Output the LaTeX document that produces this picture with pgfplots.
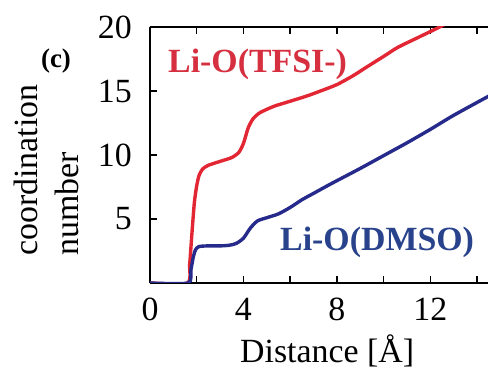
\documentclass[border=0pt]{standalone}
\usepackage{fontspec}
\setmainfont{Liberation Serif}
\usepackage{pgfplots}
\pgfplotsset{compat=1.18}
\definecolor{cred}{RGB}{226,38,52}
\definecolor{cblue}{RGB}{38,42,138}
\definecolor{tred}{RGB}{214,48,64}
\definecolor{tblue}{RGB}{40,66,140}
\begin{document}
\begin{tikzpicture}
\useasboundingbox (-150bp,-87bp) rectangle (338bp,283bp);
\begin{axis}[at={(0bp,0bp)}, anchor=south west, scale only axis,
  width=338bp, height=256bp,
  xmin=0, xmax=14.47, ymin=0, ymax=20,
  axis x line*=box, axis y line*=left,
  axis line style={-, line width=2bp, black},
  tick align=inside, major tick length=7bp,
  tick style={line width=1.5bp, black},
  xtick={0,2,...,14}, xticklabels={0,,4,,8,,12,},
  ytick={5,10,15,20},
  /pgf/number format/assume math mode=true,
  ticklabel style={font=\fontsize{34}{41}\selectfont},
  yticklabel style={anchor=east, inner sep=0pt, xshift=-18bp},
  xticklabel style={anchor=north, inner sep=0pt, yshift=-15bp},
]
\addplot[cred, line width=3.4bp, smooth, tension=0.4] coordinates {
(0,0) (1.6,0) (1.7,1.5) (1.8,4) (1.9,6.3) (2.0,7.6) (2.1,8.4) (2.25,8.9) (2.5,9.2)
(3.0,9.5) (3.5,9.8) (3.8,10.2) (4.0,10.9) (4.2,12.1) (4.4,12.8) (4.7,13.3) (5.3,13.8)
(6.0,14.2) (6.7,14.6) (7.3,15.0) (8.0,15.5) (8.7,16.2) (9.3,16.9) (10.0,17.7)
(10.6,18.4) (11.5,19.2) (12.4,20) (12.8,20.4)
};
\addplot[cblue, line width=3.4bp, smooth, tension=0.4] coordinates {
(0,0) (1.63,0) (1.75,1.0) (1.85,2.0) (1.95,2.6) (2.1,2.85) (2.5,2.9) (3.0,2.9)
(3.4,2.95) (3.7,3.1) (4.0,3.5) (4.3,4.3) (4.6,4.85) (5.0,5.1) (5.5,5.4) (6.0,5.9)
(6.5,6.5) (7.0,7.0) (7.8,7.8) (9,8.95) (10,9.95) (11,10.95) (12,12.0) (13,13.1) (14.5,14.6)
};
\end{axis}
\node[anchor=base west, inner sep=0pt, text=tred, font=\fontsize{34}{41}\selectfont\bfseries] at (18bp,210bp) {Li-O(TFSI-)};
\node[anchor=base west, inner sep=0pt, text=tblue, font=\fontsize{34}{41}\selectfont\bfseries] at (130bp,33bp) {Li-O(DMSO)};
\node[anchor=base west, inner sep=0pt, font=\fontsize{34}{41}\selectfont] at (90bp,-79bp) {Distance [Å]};
\node[inner sep=0pt, font=\fontsize{27}{32}\selectfont\bfseries] at (-94bp,222bp) {(c)};
\node[rotate=90, inner sep=0pt, align=left, font=\fontsize{34}{41}\selectfont] at (-104bp,113bp) {coordination\\number};
\end{tikzpicture}
\end{document}
